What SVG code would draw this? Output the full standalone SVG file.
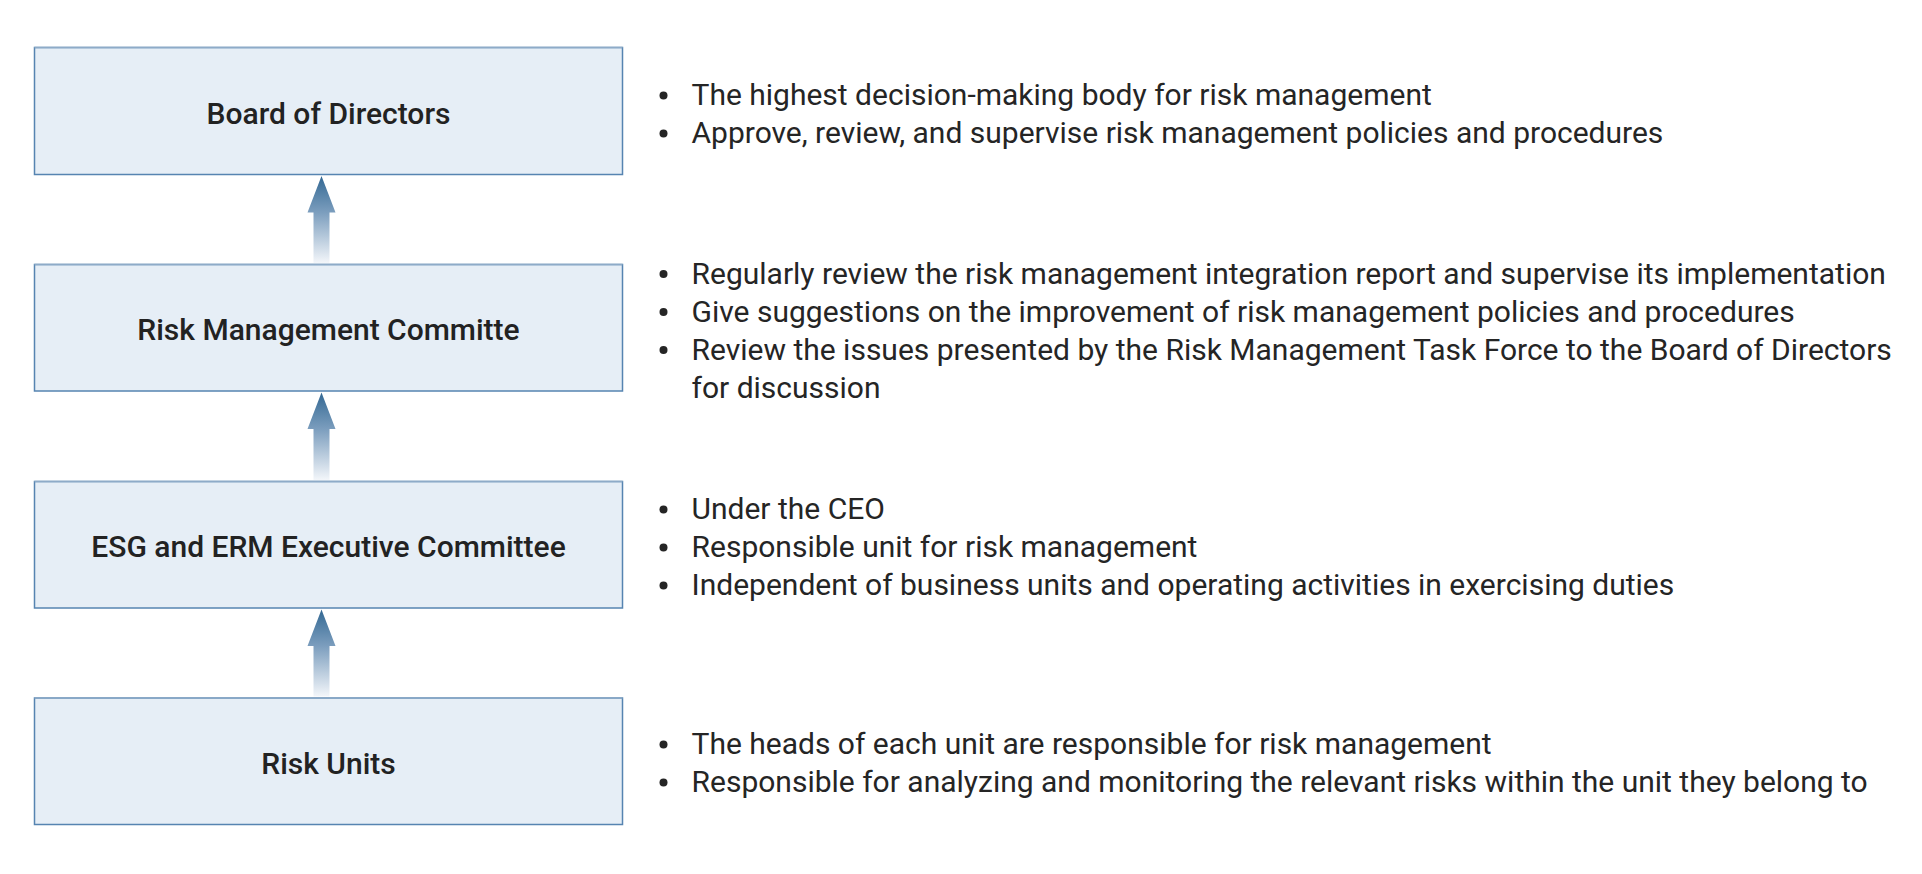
<svg xmlns="http://www.w3.org/2000/svg" width="1922" height="874" viewBox="0 0 1922 874">
<defs>
<style>
.box{fill:#e6eef6;stroke:#5684b1;stroke-width:1.5}
.top{stroke:#8eabc8;stroke-width:1.5}
.lbl{font-family:Roboto,"Liberation Sans",sans-serif;font-weight:500;font-size:30px;fill:#222;text-anchor:middle}
.txt{font-family:Roboto,"Liberation Sans",sans-serif;font-size:30px;fill:#252525}
.dot{fill:#252525}
</style>
<linearGradient id="ag" x1="0" y1="0" x2="0" y2="1">
<stop offset="0" stop-color="#336893"/>
<stop offset="0.42" stop-color="#7c9ebe"/>
<stop offset="1" stop-color="#f3f6fa"/>
</linearGradient>
</defs>
<rect width="1922" height="874" fill="#ffffff"/>
<g id="connectors">
<polygon fill="url(#ag)" points="321.5,176 335.5,212.5 329.5,212.5 329.5,263 313.5,263 313.5,212.5 307.5,212.5"/>
<polygon fill="url(#ag)" points="321.5,392.5 335.5,429 329.5,429 329.5,480 313.5,480 313.5,429 307.5,429"/>
<polygon fill="url(#ag)" points="321.5,609.5 335.5,646 329.5,646 329.5,696.5 313.5,696.5 313.5,646 307.5,646"/>
</g>
<g id="board">
<rect class="box" x="34.5" y="47.5" width="588" height="127"/>
<line class="top" x1="34.5" y1="47.5" x2="622.5" y2="47.5"/>
<text class="lbl" x="328.5" y="123.5">Board of Directors</text>
</g>
<g id="board-notes">
<circle class="dot" cx="663.5" cy="95.5" r="4"/>
<text class="txt" x="691.5" y="105">The highest decision-making body for risk management</text>
<circle class="dot" cx="663.5" cy="133.5" r="4"/>
<text class="txt" x="691.5" y="143">Approve, review, and supervise risk management policies and procedures</text>
</g>
<g id="rmc">
<rect class="box" x="34.5" y="264.5" width="588" height="126.5"/>
<line class="top" x1="34.5" y1="264.5" x2="622.5" y2="264.5"/>
<text class="lbl" x="328.5" y="340">Risk Management Committe</text>
</g>
<g id="rmc-notes">
<circle class="dot" cx="663.5" cy="274" r="4"/>
<text class="txt" x="691.5" y="283.5">Regularly review the risk management integration report and supervise its implementation</text>
<circle class="dot" cx="663.5" cy="312" r="4"/>
<text class="txt" x="691.5" y="321.5">Give suggestions on the improvement of risk management policies and procedures</text>
<circle class="dot" cx="663.5" cy="350" r="4"/>
<text class="txt" x="691.5" y="359.5">Review the issues presented by the Risk Management Task Force to the Board of Directors</text>
<text class="txt" x="691.5" y="397.5">for discussion</text>
</g>
<g id="esg">
<rect class="box" x="34.5" y="481.5" width="588" height="126.5"/>
<line class="top" x1="34.5" y1="481.5" x2="622.5" y2="481.5"/>
<text class="lbl" x="328.5" y="557">ESG and ERM Executive Committee</text>
</g>
<g id="esg-notes">
<circle class="dot" cx="663.5" cy="509.5" r="4"/>
<text class="txt" x="691.5" y="519">Under the CEO</text>
<circle class="dot" cx="663.5" cy="547.5" r="4"/>
<text class="txt" x="691.5" y="557">Responsible unit for risk management</text>
<circle class="dot" cx="663.5" cy="585.5" r="4"/>
<text class="txt" x="691.5" y="595">Independent of business units and operating activities in exercising duties</text>
</g>
<g id="units">
<rect class="box" x="34.5" y="698" width="588" height="126.5"/>
<line class="top" x1="34.5" y1="698" x2="622.5" y2="698"/>
<text class="lbl" x="328.5" y="773.5">Risk Units</text>
</g>
<g id="units-notes">
<circle class="dot" cx="663.5" cy="744.5" r="4"/>
<text class="txt" x="691.5" y="754">The heads of each unit are responsible for risk management</text>
<circle class="dot" cx="663.5" cy="782.5" r="4"/>
<text class="txt" x="691.5" y="792">Responsible for analyzing and monitoring the relevant risks within the unit they belong to</text>
</g>
</svg>
